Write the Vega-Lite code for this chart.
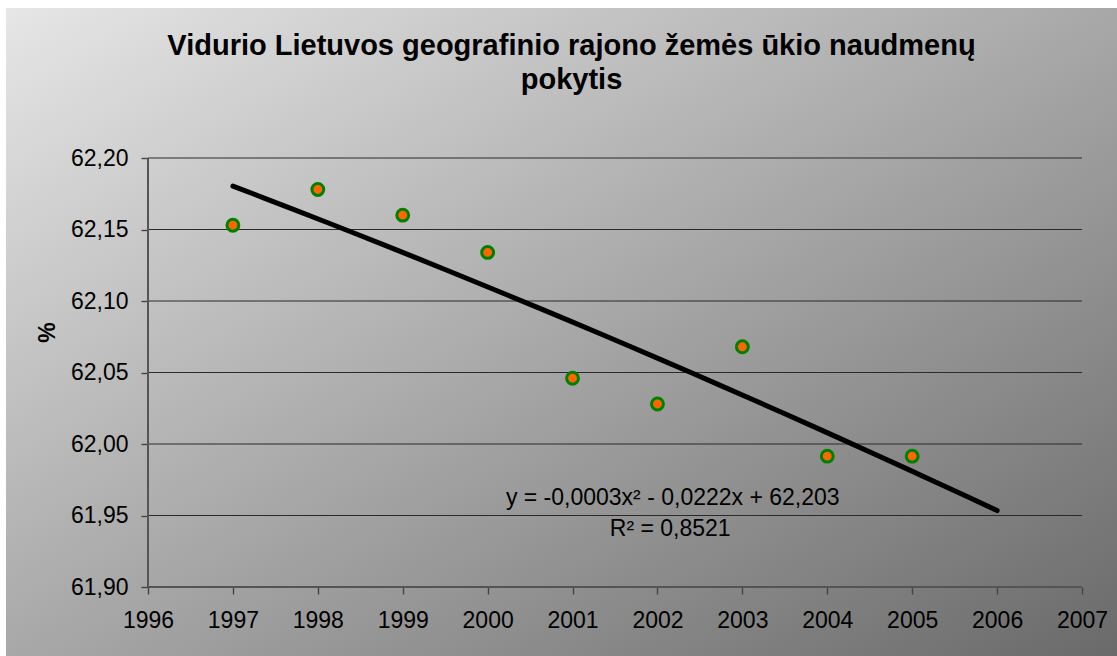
{
  "$schema": "https://vega.github.io/schema/vega-lite/v6.json",
  "width": 1111,
  "height": 648,
  "autosize": "none",
  "padding": {"left": 6, "top": 8, "right": 0, "bottom": 0},
  "background": "#ffffff",
  "config": {
    "font": "Liberation Sans",
    "view": {
      "stroke": null,
      "fill": {
        "gradient": "linear",
        "x1": 0, "y1": 0, "x2": 1, "y2": 1,
        "stops": [
          {"offset": 0, "color": "#e6e6e6"},
          {"offset": 0.5, "color": "#a8a8a8"},
          {"offset": 1, "color": "#6a6a6a"}
        ]
      }
    },
    "axis": {
      "labelFont": "Liberation Sans",
      "labelFontSize": 23,
      "labelColor": "#000000",
      "tickSize": 7,
      "tickColor": "#444444",
      "tickWidth": 1.4,
      "domain": false,
      "grid": false,
      "labelFlush": false,
      "labelOverlap": false
    }
  },
  "title": {
    "text": ["Vidurio Lietuvos geografinio rajono žemės ūkio naudmenų", "pokytis"],
    "font": "Liberation Sans",
    "fontSize": 29,
    "fontWeight": "bold",
    "color": "#000000",
    "lineHeight": 34,
    "dx": 10,
    "offset": -87
  },
  "datasets": {
    "points": [
      {"year": 1997, "value": 62.153},
      {"year": 1998, "value": 62.178},
      {"year": 1999, "value": 62.160},
      {"year": 2000, "value": 62.134},
      {"year": 2001, "value": 62.046},
      {"year": 2002, "value": 62.028},
      {"year": 2003, "value": 62.068},
      {"year": 2004, "value": 61.9915},
      {"year": 2005, "value": 61.9915}
    ],
    "gridlines": [
      {"value": 61.95}, {"value": 62.0}, {"value": 62.05}, {"value": 62.1}, {"value": 62.15}, {"value": 62.2}
    ],
    "notes": [
      {"year": 2002.18, "value": 61.957, "label": "y = -0,0003x² - 0,0222x + 62,203"},
      {"year": 2002.15, "value": 61.936, "label": "R² = 0,8521"}
    ]
  },
  "layer": [
    {
      "data": {"name": "gridlines"},
      "mark": {"type": "rule", "color": "#2a2a2a", "strokeWidth": 1.2},
      "encoding": {
        "x": {"datum": 1996},
        "x2": {"datum": 2007},
        "y": {"field": "value", "type": "quantitative"}
      }
    },
    {
      "data": {"name": "gridlines"},
      "mark": {"type": "rule", "color": "#555555", "strokeWidth": 1.6},
      "encoding": {
        "x": {"datum": 1996},
        "y": {"datum": 61.9},
        "y2": {"datum": 62.2}
      }
    },
    {
      "data": {"name": "gridlines"},
      "mark": {"type": "rule", "color": "#555555", "strokeWidth": 1.6},
      "encoding": {
        "x": {"datum": 1996},
        "x2": {"datum": 2007},
        "y": {"datum": 61.9}
      }
    },
    {
      "data": {"name": "points"},
      "transform": [
        {"regression": "value", "on": "year", "method": "poly", "order": 2, "extent": [1997, 2006]}
      ],
      "mark": {"type": "line", "color": "#000000", "strokeWidth": 5, "strokeCap": "round"},
      "encoding": {
        "x": {
          "field": "year",
          "type": "quantitative",
          "scale": {"domain": [1994.3276, 2007.4122], "nice": false, "zero": false},
          "axis": {
            "title": null,
            "offset": -69,
            "labelPadding": 15,
            "values": [1996, 1997, 1998, 1999, 2000, 2001, 2002, 2003, 2004, 2005, 2006, 2007],
            "format": "d"
          }
        },
        "y": {
          "field": "value",
          "type": "quantitative",
          "scale": {"domain": [61.85175, 62.3049], "nice": false, "zero": false},
          "axis": {
            "title": "%",
            "offset": -142,
            "labelPadding": 13,
            "titleFont": "Liberation Sans",
            "titleFontSize": 23,
            "titleFontWeight": "bold",
            "titleColor": "#000000",
            "titlePadding": 11,
            "values": [61.9, 61.95, 62.0, 62.05, 62.1, 62.15, 62.2],
            "labelExpr": "replace(format(datum.value, '.2f'), '.', ',')"
          }
        }
      }
    },
    {
      "data": {"name": "points"},
      "mark": {
        "type": "point",
        "shape": "circle",
        "filled": true,
        "size": 140,
        "fill": "#ff6600",
        "stroke": "#008000",
        "strokeWidth": 3,
        "opacity": 1
      },
      "encoding": {
        "x": {"field": "year", "type": "quantitative"},
        "y": {"field": "value", "type": "quantitative"}
      }
    },
    {
      "data": {"name": "notes"},
      "mark": {
        "type": "text",
        "font": "Liberation Sans",
        "fontSize": 23,
        "align": "center",
        "baseline": "alphabetic",
        "color": "#000000"
      },
      "encoding": {
        "x": {"field": "year", "type": "quantitative"},
        "y": {"field": "value", "type": "quantitative"},
        "text": {"field": "label"}
      }
    }
  ]
}
